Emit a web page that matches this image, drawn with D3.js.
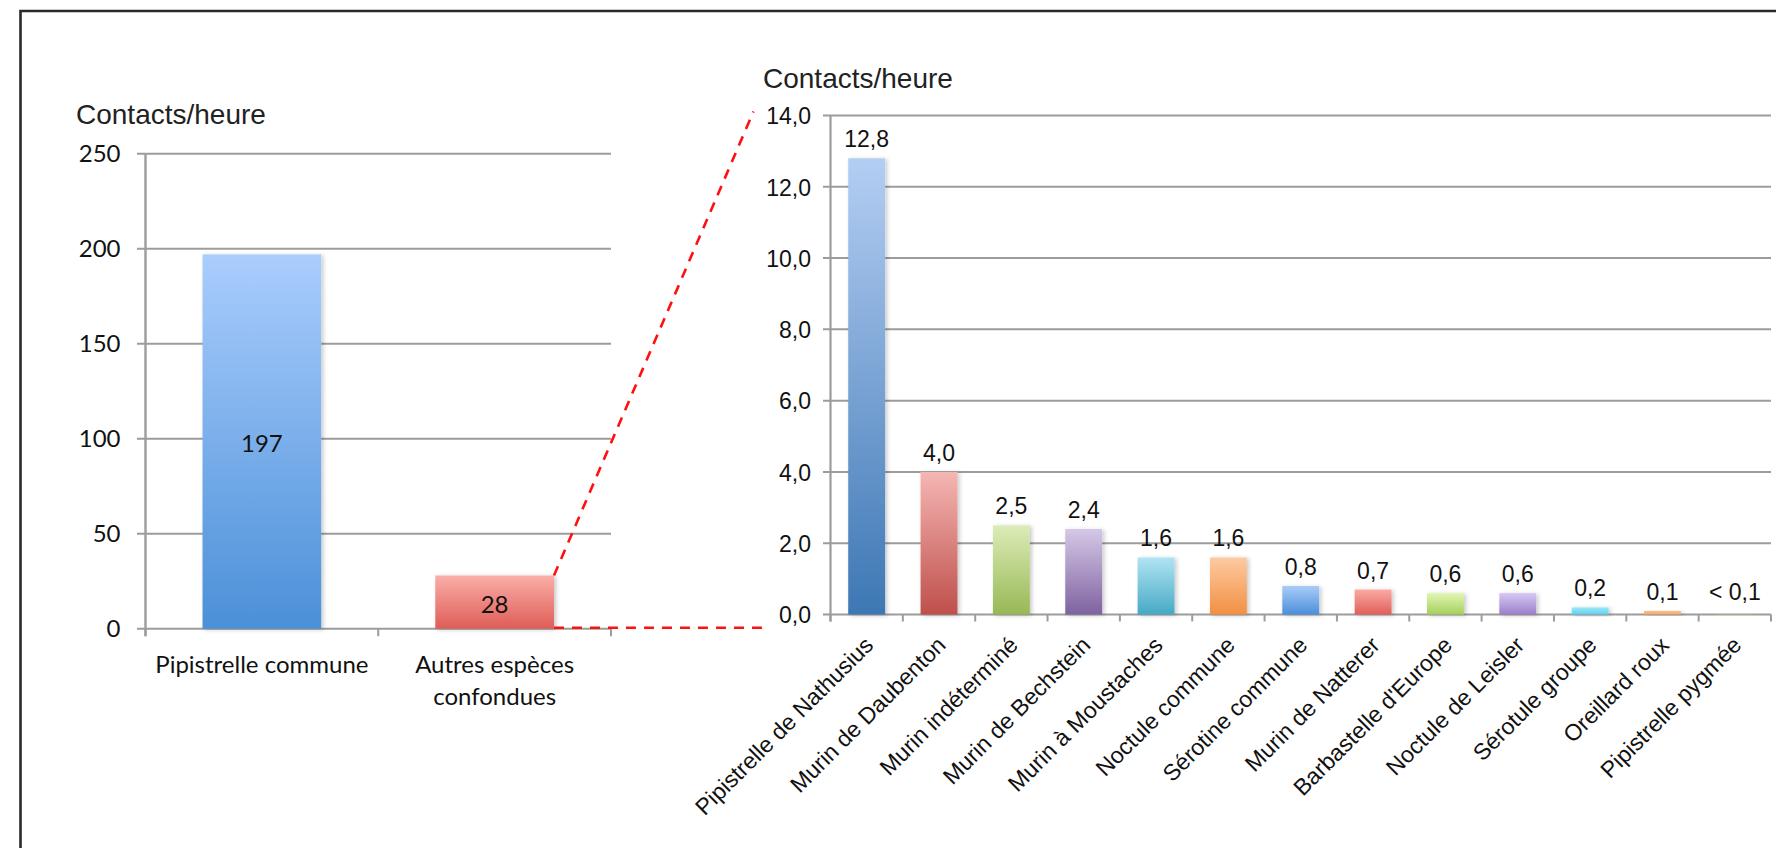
<!DOCTYPE html>
<html lang="fr">
<head>
<meta charset="utf-8">
<title>Contacts/heure par espèce</title>
<script src="https://cdn.jsdelivr.net/npm/d3@7"></script>
<style>
  html, body { margin: 0; padding: 0; background: #fff; }
  svg { display: block; }
  .sans { font-family: "Liberation Sans", Arial, Helvetica, sans-serif; }
  .hum { font-family: Lato, "Open Sans", "Liberation Sans", sans-serif; }
</style>
</head>
<body>
<svg id="chart" width="1776" height="848"></svg>
<script>
// Overall activity: common pipistrelle vs all other species
const leftCategories = ["Pipistrelle commune", "Autres espèces confondues"];
const leftValues = [197, 28];
const leftTicks = [0, 50, 100, 150, 200, 250];

// Detail of the "other species" group
const rightCategories = [
  "Pipistrelle de Nathusius", "Murin de Daubenton", "Murin indéterminé",
  "Murin de Bechstein", "Murin à Moustaches", "Noctule commune",
  "Sérotine commune", "Murin de Natterer", "Barbastelle d'Europe",
  "Noctule de Leisler", "Sérotule groupe", "Oreillard roux", "Pipistrelle pygmée"
];
const rightValues = [12.8, 4.0, 2.5, 2.4, 1.6, 1.6, 0.8, 0.7, 0.6, 0.6, 0.2, 0.1, 0.01];
const rightTicks = [0, 2, 4, 6, 8, 10, 12, 14];

const axisTitle = "Contacts/heure";

// Bar fills: [top, bottom] of each vertical gradient
const leftPalette = [["#aacdfd", "#4b90d8"], ["#fbaea8", "#de5d56"]];
const rightPalette = [
  ["#b4cef3", "#3d77b4"], ["#f5b6b3", "#bf4f4b"], ["#dcecb8", "#98b855"],
  ["#d5c8e7", "#7f62a0"], ["#b0e4f4", "#46a9c4"], ["#fdcaa2", "#f29042"],
  ["#a9ccf7", "#4a8fda"], ["#fbaaa5", "#e05f58"], ["#e2f6b3", "#a5cf5c"],
  ["#d7c8f2", "#9a7ecb"], ["#9be9f9", "#62d0ee"], ["#fbc08c", "#f6a868"],
  ["#e2f6b3", "#a5cf5c"]
];

const frFmt = d3.formatLocale({decimal: ",", thousands: " ", grouping: [3], currency: ["", " €"]});
const fmt1 = frFmt.format(".1f");
const valueLabel = v => v < 0.1 ? "< 0,1" : fmt1(v);

const svg = d3.select("#chart");
const defs = svg.append("defs");

const shadow = defs.append("filter").attr("id", "barShadow")
  .attr("x", "-20%").attr("y", "-20%").attr("width", "150%").attr("height", "150%");
shadow.append("feDropShadow").attr("dx", 2).attr("dy", 1).attr("stdDeviation", 2)
  .attr("flood-color", "#000").attr("flood-opacity", 0.22);

function gradient(id, [top, bottom]) {
  const g = defs.append("linearGradient").attr("id", id)
    .attr("x1", 0).attr("y1", 0).attr("x2", 0).attr("y2", 1);
  g.append("stop").attr("offset", "0%").attr("stop-color", top);
  g.append("stop").attr("offset", "100%").attr("stop-color", bottom);
  return `url(#${id})`;
}

// Frame around the figure
svg.append("path")
  .attr("d", "M20.5,848 V11 H1776")
  .attr("fill", "none").attr("stroke", "#2a2a2a").attr("stroke-width", 2.6);

const gridColor = "#9c9c9c";

/* ---------------- Left chart ---------------- */
const L = {left: 145.5, right: 611, top: 153.7, bottom: 628.7};
const xL = d3.scaleBand().domain(leftCategories).range([L.left, L.right])
  .paddingInner(0.49).paddingOuter(0.245);
const yL = d3.scaleLinear().domain([0, 250]).range([L.bottom, L.top]);
const gL = svg.append("g");

gL.append("g").selectAll("line").data(leftTicks).join("line")
  .attr("x1", L.left - 8.5).attr("x2", L.right)
  .attr("y1", d => yL(d)).attr("y2", d => yL(d))
  .attr("stroke", gridColor).attr("stroke-width", 2);

gL.append("line").attr("x1", L.left).attr("x2", L.left)
  .attr("y1", yL(250)).attr("y2", L.bottom + 7.5)
  .attr("stroke", gridColor).attr("stroke-width", 2.4);

const stepL = xL.step();
gL.append("g").selectAll("line").data(d3.range(leftCategories.length + 1)).join("line")
  .attr("x1", i => L.left + i * stepL).attr("x2", i => L.left + i * stepL)
  .attr("y1", L.bottom).attr("y2", L.bottom + 7.5)
  .attr("stroke", gridColor).attr("stroke-width", 2);

gL.append("g").selectAll("text").data(leftTicks).join("text")
  .attr("class", "hum")
  .attr("x", L.left - 25).attr("y", d => yL(d)).attr("dy", "0.36em")
  .attr("text-anchor", "end").attr("font-size", 24).attr("fill", "#111")
  .text(d => d);

gL.append("text").attr("class", "sans")
  .attr("x", 76).attr("y", 124).attr("font-size", 28).attr("fill", "#222")
  .text(axisTitle);

gL.append("g").selectAll("rect").data(leftValues).join("rect")
  .attr("x", (d, i) => xL(leftCategories[i]))
  .attr("width", xL.bandwidth())
  .attr("y", d => yL(d))
  .attr("height", d => yL(0) - yL(d))
  .attr("fill", (d, i) => gradient("gl" + i, leftPalette[i]))
  .attr("filter", "url(#barShadow)");

gL.append("g").selectAll("text").data(leftValues).join("text")
  .attr("class", "hum")
  .attr("x", (d, i) => xL(leftCategories[i]) + xL.bandwidth() / 2)
  .attr("y", d => (yL(d) + yL(0)) / 2).attr("dy", "0.45em")
  .attr("text-anchor", "middle").attr("font-size", 24).attr("fill", "#111")
  .text(d => d);

// Category names, wrapped to the band width
const catL = gL.append("g").selectAll("text").data(leftCategories).join("text")
  .attr("class", "hum")
  .attr("x", d => xL(d) + xL.bandwidth() / 2).attr("y", L.bottom + 44)
  .attr("text-anchor", "middle").attr("font-size", 24).attr("fill", "#111");
catL.each(function(d) {
  const t = d3.select(this);
  const x = t.attr("x");
  const words = d.split(" ");
  let line = [];
  let tspan = t.append("tspan").attr("x", x).attr("dy", 0);
  for (const w of words) {
    line.push(w);
    tspan.text(line.join(" "));
    if (tspan.node().getComputedTextLength() > stepL - 10 && line.length > 1) {
      line.pop();
      tspan.text(line.join(" "));
      line = [w];
      tspan = t.append("tspan").attr("x", x).attr("dy", 32).text(w);
    }
  }
});

/* ---------------- Right chart ---------------- */
const R = {left: 830.5, right: 1771, top: 115.5, bottom: 614.5};
const xR = d3.scaleBand().domain(rightCategories).range([R.left, R.right])
  .paddingInner(0.49).paddingOuter(0.245);
const yR = d3.scaleLinear().domain([0, 14]).range([R.bottom, R.top]);
const gR = svg.append("g");

gR.append("g").selectAll("line").data(rightTicks).join("line")
  .attr("x1", R.left - 7.5).attr("x2", R.right)
  .attr("y1", d => yR(d)).attr("y2", d => yR(d))
  .attr("stroke", gridColor).attr("stroke-width", 2);

gR.append("line").attr("x1", R.left).attr("x2", R.left)
  .attr("y1", yR(14)).attr("y2", R.bottom + 7)
  .attr("stroke", gridColor).attr("stroke-width", 2.2);

const stepR = xR.step();
gR.append("g").selectAll("line").data(d3.range(rightCategories.length + 1)).join("line")
  .attr("x1", i => R.left + i * stepR).attr("x2", i => R.left + i * stepR)
  .attr("y1", R.bottom).attr("y2", R.bottom + 7)
  .attr("stroke", gridColor).attr("stroke-width", 2);

gR.append("g").selectAll("text").data(rightTicks).join("text")
  .attr("class", "sans")
  .attr("x", R.left - 19.5).attr("y", d => yR(d)).attr("dy", "0.38em")
  .attr("text-anchor", "end").attr("font-size", 23).attr("fill", "#111")
  .text(d => fmt1(d));

gR.append("text").attr("class", "sans")
  .attr("x", 763).attr("y", 88).attr("font-size", 28).attr("fill", "#222")
  .text(axisTitle);

gR.append("g").selectAll("rect").data(rightValues).join("rect")
  .attr("x", (d, i) => xR(rightCategories[i]))
  .attr("width", xR.bandwidth())
  .attr("y", d => yR(d))
  .attr("height", d => yR(0) - yR(d))
  .attr("fill", (d, i) => gradient("gr" + i, rightPalette[i]))
  .attr("filter", d => d >= 0.1 ? "url(#barShadow)" : null);

gR.append("g").selectAll("text").data(rightValues).join("text")
  .attr("class", "sans")
  .attr("x", (d, i) => xR(rightCategories[i]) + xR.bandwidth() / 2)
  .attr("y", d => yR(Math.max(d, 0.1)) - 11)
  .attr("text-anchor", "middle").attr("font-size", 23).attr("fill", "#111")
  .text(d => valueLabel(d));

gR.append("g").selectAll("text").data(rightCategories).join("text")
  .attr("class", "sans")
  .attr("transform", d => `translate(${xR(d) + xR.bandwidth() / 2 + 8},${R.bottom + 32}) rotate(-45)`)
  .attr("text-anchor", "end").attr("font-size", 23).attr("fill", "#111")
  .text(d => d);

/* ---------------- Zoom connectors ---------------- */
const other = leftCategories[1];
const bx = xL(other) + xL.bandwidth();
const dash = {stroke: "#ff1010", "stroke-width": 2.6, "stroke-dasharray": "10,8", fill: "none"};
const upper = svg.append("line")
  .attr("x1", bx).attr("y1", yL(leftValues[1]))
  .attr("x2", R.left - 77).attr("y2", yR(14) - 4);
const lower = svg.append("line")
  .attr("x1", bx).attr("y1", yL(0) - 1)
  .attr("x2", R.left - 66).attr("y2", yL(0) - 1);
for (const l of [upper, lower]) for (const k in dash) l.attr(k, dash[k]);
</script>
</body>
</html>
